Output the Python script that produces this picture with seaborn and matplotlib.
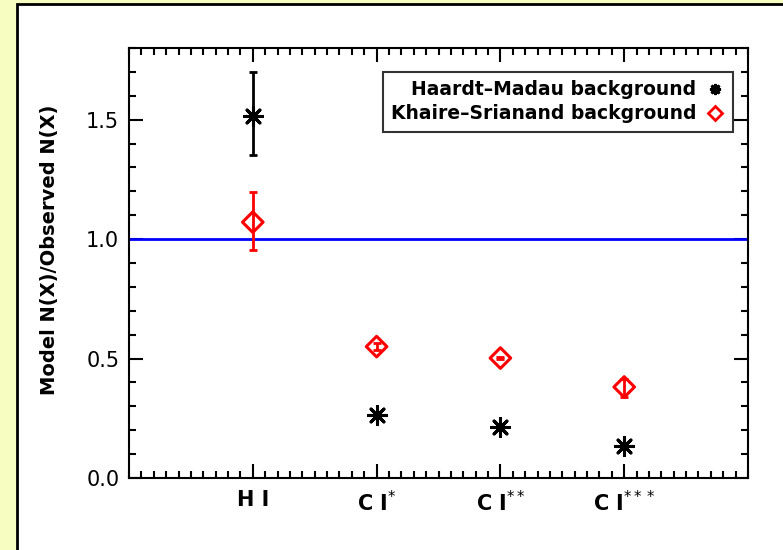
import matplotlib
matplotlib.use("Agg")
import matplotlib.pyplot as plt
from matplotlib.patches import Rectangle
from matplotlib.ticker import MultipleLocator
import seaborn as sns
import pandas as pd

sns.set_theme(style="white")
plt.rcParams['font.family'] = ['DejaVu Sans']
plt.rcParams['text.color'] = 'black'
plt.rcParams['axes.labelcolor'] = 'black'

# ---- data ----
ions = ["H I", "C I$^{*}$", "C I$^{**}$", "C I$^{***}$"]
positions = [1, 2, 3, 4]
hm_ratio = [1.515, 0.262, 0.213, 0.134]
hm_err_lo = [0.165, 0.0, 0.0, 0.0]
hm_err_hi = [0.185, 0.0, 0.0, 0.0]
ks_ratio = [1.071, 0.550, 0.502, 0.381]
ks_err_lo = [0.117, 0.015, 0.005, 0.040]
ks_err_hi = [0.126, 0.015, 0.005, 0.035]
label_hm = "Haardt\u2013Madau background"
label_ks = "Khaire\u2013Srianand background"
ylabel = "Model N(X)/Observed N(X)"

df = pd.DataFrame({
    "pos": positions * 2,
    "ratio": hm_ratio + ks_ratio,
    "model": [label_hm] * 4 + [label_ks] * 4,
})

W, H = 783, 550
fig = plt.figure(figsize=(W / 100, H / 100), dpi=100)
fig.patch.set_facecolor("#f7fcc0")
fig.patches.append(Rectangle((17 / W, -0.1), 1.2, (H - 4) / H + 0.1,
                             transform=fig.transFigure, facecolor="white",
                             edgecolor="black", linewidth=2, zorder=-5))

ax = fig.add_axes([129 / W, (H - 478) / H, (748 - 129) / W, (478 - 48) / H])
ax.set_zorder(2)
ax.set_facecolor("white")

ax.axhline(1.0, color="#0000ff", lw=2, zorder=1)

ax.errorbar(positions, hm_ratio, yerr=[hm_err_lo, hm_err_hi], fmt="none",
            ecolor="black", elinewidth=2, capsize=3, capthick=2, zorder=2)
ax.errorbar(positions, ks_ratio, yerr=[ks_err_lo, ks_err_hi], fmt="none",
            ecolor="red", elinewidth=2, capsize=3, capthick=2, zorder=2)

sns.scatterplot(data=df[df.model == label_hm], x="pos", y="ratio", ax=ax,
                marker=(8, 2, 0), s=170, color="black", linewidth=2.2,
                edgecolor="black", legend=False, zorder=3)
sns.scatterplot(data=df[df.model == label_ks], x="pos", y="ratio", ax=ax,
                marker="D", s=110, facecolor="none", edgecolor="red",
                linewidth=2.2, legend=False, zorder=3)

ax.set_xlim(0, 5)
ax.set_ylim(0, 1.8)
ax.set_xticks(positions)
ax.set_xticklabels(ions, fontweight="bold", fontsize=12)
ax.xaxis.set_minor_locator(MultipleLocator(0.1))
ax.yaxis.set_major_locator(MultipleLocator(0.5))
ax.yaxis.set_minor_locator(MultipleLocator(0.1))
ax.yaxis.set_major_formatter(matplotlib.ticker.FormatStrFormatter("%.1f"))
ax.tick_params(which="both", direction="in", top=True, right=True,
               bottom=True, left=True, colors="black", labelcolor="black",
               width=1.5)
ax.tick_params(which="major", length=10, labelsize=15)
ax.tick_params(which="minor", length=5)
ax.tick_params(axis="x", which="major", pad=9)
ax.tick_params(axis="y", which="major", pad=7)
for sp in ax.spines.values():
    sp.set_color("black")
    sp.set_linewidth(1.5)
ax.set_xlabel("")
ax.set_ylabel(ylabel, fontweight="bold", fontsize=14, color="black",
              va="center")
ax.yaxis.set_label_coords((50 - 129) / 619, (478 - 250) / 430)

h1 = plt.Line2D([], [], ls="none", marker=(8, 2, 0), ms=8, mew=2, color="black")
h2 = plt.Line2D([], [], ls="none", marker="D", ms=7, mew=2, mfc="none", mec="red")
leg = ax.legend([h1, h2], [label_hm, label_ks], loc="upper right",
                bbox_to_anchor=((733 - 129) / 619, (478 - 72) / 430),
                borderaxespad=0, markerfirst=False, frameon=True, fancybox=False,
                prop={"weight": "bold", "size": 13.5}, handlelength=1.0,
                handletextpad=0.5, borderpad=0.45, labelspacing=0.25)
leg.get_frame().set_edgecolor("black")
leg.get_frame().set_linewidth(1.5)
for t in leg.get_texts():
    t.set_ha("right")
    t.set_color("black")

fig.savefig("out.png", dpi=100, facecolor=fig.get_facecolor())
